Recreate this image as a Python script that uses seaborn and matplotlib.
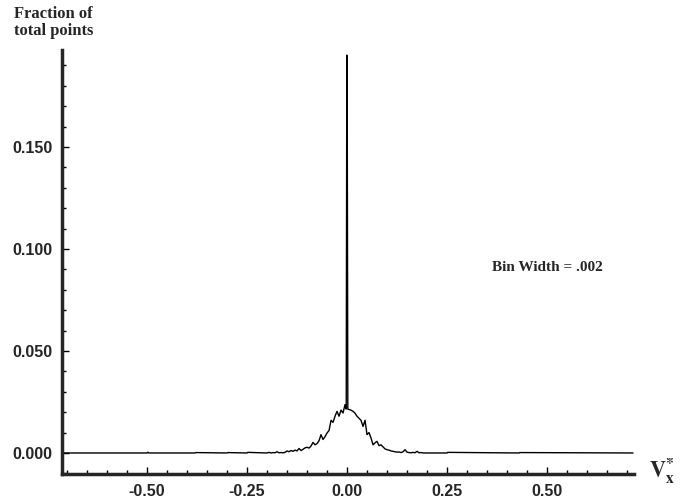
import numpy as np
import pandas as pd
import seaborn as sns
import matplotlib.pyplot as plt
from matplotlib.ticker import MultipleLocator, FormatStrFormatter

# velocity bins (bin width .002) and fraction of total points
vx = [-0.712, -0.50, -0.498, -0.496, -0.38, -0.378, -0.30, -0.298, -0.25, -0.248,
      -0.200, -0.195, -0.190, -0.185, -0.180, -0.175, -0.170, -0.165, -0.160, -0.155,
      -0.150, -0.145, -0.140, -0.135, -0.130, -0.125, -0.120, -0.115, -0.110, -0.105,
      -0.100, -0.095, -0.090, -0.085, -0.080, -0.075, -0.070, -0.065, -0.060, -0.055,
      -0.050, -0.045, -0.040, -0.035, -0.030, -0.025, -0.020, -0.015, -0.010, -0.005,
      -0.002, -0.0005, 0.0005, 0.002, 0.010, 0.015, 0.020, 0.025, 0.030, 0.035,
      0.040, 0.045, 0.050, 0.055, 0.060, 0.065, 0.070, 0.075, 0.080, 0.085,
      0.090, 0.095, 0.100, 0.105, 0.110, 0.115, 0.120, 0.125, 0.130, 0.135,
      0.140, 0.145, 0.150, 0.155, 0.160, 0.165, 0.170, 0.175, 0.180, 0.185,
      0.190, 0.200, 0.25, 0.252, 0.43, 0.432, 0.715]
frac = [0.0, 0.0, 0.0004, 0.0, 0.0, 0.0002, 0.0, 0.0002, 0.0, 0.0003,
        0.0000, 0.0003, 0.0000, 0.0002, 0.0001, 0.0006, 0.0001, 0.0002, 0.0001, 0.0003,
        0.0010, 0.0006, 0.0012, 0.0008, 0.0014, 0.0010, 0.0022, 0.0012, 0.0018, 0.0025,
        0.0028, 0.0024, 0.0034, 0.0052, 0.0040, 0.0046, 0.0060, 0.0090, 0.0066, 0.0080,
        0.0098, 0.0110, 0.0160, 0.0150, 0.0180, 0.0204, 0.0180, 0.0210, 0.0196, 0.0237,
        0.0215, 0.1950, 0.1720, 0.0215, 0.0210, 0.0204, 0.0195, 0.0180, 0.0170, 0.0160,
        0.0130, 0.0160, 0.0090, 0.0100, 0.0073, 0.0040, 0.0050, 0.0057, 0.0036, 0.0040,
        0.0030, 0.0020, 0.0016, 0.0014, 0.0010, 0.0008, 0.0006, 0.0004, 0.0005, 0.0002,
        0.0006, 0.0016, 0.0004, 0.0002, 0.0001, 0.0003, 0.0001, 0.0008, 0.0001, 0.0002,
        0.0000, 0.0000, 0.0, 0.0003, 0.0, 0.0002, 0.0]

x_ticks = [-0.50, -0.25, 0.00, 0.25, 0.50]
y_ticks = [0.000, 0.050, 0.100, 0.150]

df = pd.DataFrame({'vx': vx, 'frac': frac})

sns.set_style('ticks')
plt.rcParams['font.family'] = ['Liberation Sans', 'DejaVu Sans']
plt.rcParams['mathtext.fontset'] = 'stix'

fig = plt.figure(figsize=(6.8, 5.01), dpi=100)
ax = fig.add_axes([0.0912, 0.0539, 0.8412, 0.8463])

sns.lineplot(data=df, x='vx', y='frac', color='black', linewidth=1.0,
             estimator=None, sort=False, ax=ax)

ax.set_xticks(x_ticks)
ax.set_yticks(y_ticks)
ax.xaxis.set_minor_locator(MultipleLocator(0.05))
ax.yaxis.set_minor_locator(MultipleLocator(0.01))
ax.xaxis.set_major_formatter(FormatStrFormatter('%.2f'))
ax.yaxis.set_major_formatter(FormatStrFormatter('%.3f'))
ax.set_xlim(-0.7125, 0.7175)
ax.set_ylim(-0.0103, 0.1975)

ax.tick_params(which='both', direction='in', color='black', width=1.0)
ax.tick_params(which='major', length=5, pad=7, labelsize=11.5)
ax.tick_params(which='minor', length=3)
for lab in ax.get_xticklabels() + ax.get_yticklabels():
    lab.set_fontweight('bold')

sns.despine(ax=ax)
for side in ['left', 'bottom']:
    ax.spines[side].set_linewidth(2.5)
ax.set_xlabel('')
ax.set_ylabel('')

fig.text(0.02, 0.988, 'Fraction of\ntotal points', ha='left', va='top',
         fontsize=12, fontweight='bold', family='Liberation Serif', linespacing=1.1)
ax.text(0.752, 0.486, 'Bin Width = .002', transform=ax.transAxes, ha='left',
        va='center', fontsize=11, fontweight='bold', family='Liberation Serif')
fig.text(0.955, 0.06, r'$\mathbf{V}_{\mathbf{x}}^{\mathbf{*}}$', ha='left',
         va='center', fontsize=16)

fig.savefig('out.png', dpi=100)
